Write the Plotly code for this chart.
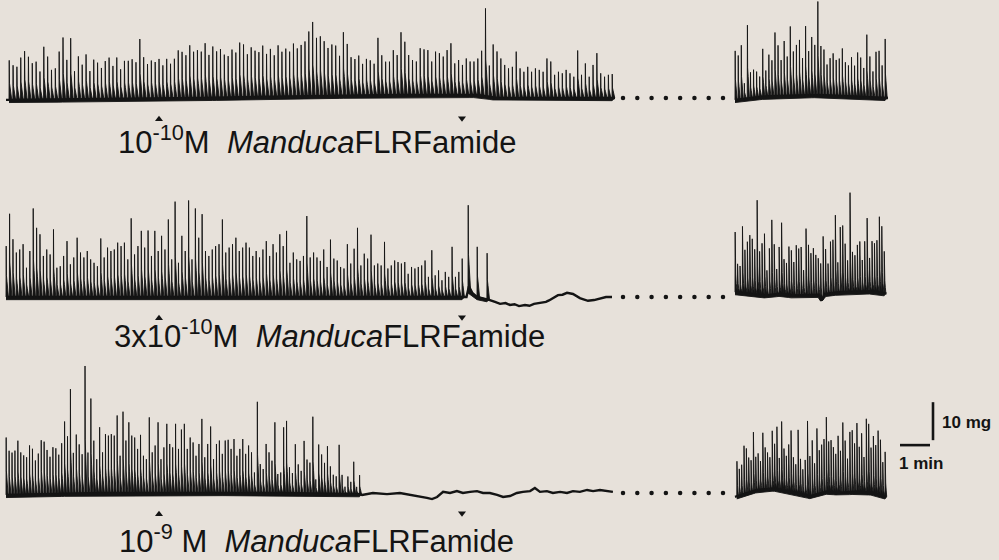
import numpy as np
import plotly.graph_objects as go

# ---------------- DATA (time in min, force in mg above resting baseline) ----------------
drug_on_min = 5.0
washout_min = 15.1
concentrations = ["10<sup>-10</sup>M", "3x10<sup>-10</sup>M", "10<sup>-9</sup>\u00a0M"]
peptide = "<i>Manduca</i>FLRFamide"
scale_mg = 10
scale_min = 1

# Trace 1 : 10^-10 M
t1_a_span = [0.0, 20.1]
t1_a_heights = [10.4, 9.1, 8.7, 11.1, 12.8, 11.3, 9.6, 10.0, 7.4, 13.9, 11.3, 7.8, 8.2, 12.6, 16.3, 10.4,
                16.1, 7.4, 11.3, 9.1, 11.8, 7.4, 10.4, 9.6, 8.2, 10.0, 10.9, 8.7, 10.9, 7.8, 10.0, 10.0,
                10.4, 9.6, 15.7, 10.9, 9.1, 10.0, 9.6, 10.4, 8.7, 10.4, 9.1, 10.4, 12.6, 12.2, 11.3, 13.9,
                12.2, 12.6, 12.2, 14.4, 11.3, 13.5, 12.2, 12.8, 11.3, 10.9, 12.6, 11.8, 14.4, 13.9, 11.3,
                13.1, 12.2, 11.8, 13.5, 11.3, 12.6, 10.9, 13.5, 11.8, 12.6, 11.8, 13.9, 12.6, 13.5, 14.4,
                17.0, 19.5, 15.3, 15.7, 14.4, 12.6, 13.5,
                13.2, 10.5, 16.7, 13.6, 10.1, 9.6, 10.5, 8.3, 9.6, 9.2, 8.3, 15.1, 10.5, 8.8, 8.8, 11.8,
                10.5, 16.5, 14.0, 10.5, 9.2, 8.8, 12.3, 12.0, 11.8, 8.8, 11.4, 11.0, 10.1, 11.8, 13.6, 8.3,
                9.2, 7.9, 9.6, 8.8, 8.8, 9.6, 11.8, 23.1, 8.2, 13.9, 12.2, 10.4, 8.7, 7.8, 8.2, 12.2, 7.8,
                6.9, 8.2, 6.9, 7.8, 7.4, 6.9, 10.4, 9.6, 6.1, 6.9, 6.5, 7.4, 6.5, 5.6, 12.5, 6.1, 9.1, 5.6,
                8.7, 11.8, 6.5, 5.6, 6.1, 6.3]
t1_a_base_t = [-0.1, 3.0, 6.4, 10.0, 13.0, 15.6, 16.3, 20.2]
t1_a_base_mg = [-0.5, -0.3, 0.0, 0.5, 0.8, 0.8, 0.0, 0.0]
t1_b_span = [24.2, 29.2]
t1_b_heights = [12.9, 11.6, 14.2, 4.1, 19.3, 6.8, 7.4, 6.8, 5.4, 12.6, 6.8, 10.9, 9.4, 16.7, 13.3, 9.4,
                14.4, 10.3, 18.2, 11.6, 13.3, 14.6, 9.8, 18.2, 11.6, 15.3, 13.2, 24.6, 12.9, 12.0, 8.1,
                9.8, 11.1, 9.4, 9.8, 12.5, 8.9, 8.1, 10.3, 8.1, 11.6, 10.3, 7.6, 16.4, 10.7, 6.8, 12.0,
                12.3, 8.5, 15.5]
t1_b_base_t = [24.2, 25.3, 27.0, 28.5, 29.3]
t1_b_base_mg = [-0.5, 0.5, 0.8, 0.3, 0.0]

# Trace 2 : 3x10^-10 M
t2_a_span = [-0.1, 15.1]
t2_a_heights = [13.4, 21.9, 15.2, 11.7, 12.5, 13.9, 7.7, 12.1, 23.3, 18.2, 16.5, 10.8, 12.5, 11.2, 17.8,
                7.7, 8.1, 10.8, 14.7, 8.6, 10.4, 15.6, 11.7, 10.4, 12.1, 9.9, 9.0, 8.1, 15.4, 10.4, 13.0,
                12.1, 12.5, 14.3, 13.4, 14.3, 9.9, 20.7, 11.2, 13.4, 17.4, 13.0, 17.5, 10.8, 17.4, 12.1,
                16.1, 12.5, 20.4, 9.9, 25.1, 9.0, 16.1, 12.1, 25.4, 9.9, 23.3, 15.6, 21.8, 12.1, 10.8,
                12.5, 13.4, 13.9, 20.4, 11.7, 13.0, 13.9, 15.6, 12.1, 13.0, 14.3, 13.0, 10.8, 12.1, 10.4,
                12.5, 14.7, 10.8, 13.9, 11.7, 16.5, 13.4, 17.4, 9.0, 11.7, 9.9, 9.5, 10.8, 21.3, 10.4,
                11.7, 10.4, 9.5, 12.5,
                7.9, 15.1, 10.1, 9.6, 7.9, 7.5, 13.9, 8.8, 12.7, 18.2, 8.3, 11.4, 10.1, 16.4, 8.3, 8.8,
                8.3, 14.5, 7.5, 8.3, 9.6, 9.2, 8.8, 9.2, 6.1, 7.9, 7.5, 7.9, 8.3, 9.6, 5.3, 12.3, 5.7,
                7.0, 4.4, 6.6, 5.3, 13.2, 5.3, 6.6, 10.1]
t2_late_t = [15.3, 15.6, 15.93]
t2_late_heights = [22.4, 13.2, 12.1]
t2_a_base_t = [-0.1, 5.0, 10.0, 15.25, 15.33, 15.45, 15.6, 15.9, 16.03, 16.2, 16.37, 16.55, 16.7, 16.85,
               17.0, 17.2, 17.35, 17.5, 17.7, 17.9, 18.0, 18.13, 18.3, 18.45, 18.6, 18.8, 18.9, 19.03,
               19.15, 19.3, 19.5, 19.7, 19.9, 20.1]
t2_a_base_mg = [0.0, 0.0, 0.0, 0.0, 2.8, 1.0, 0.0, -0.5, -0.8, -1.3, -1.8, -1.6, -2.1, -1.9, -2.4, -2.1,
                -2.3, -1.8, -1.6, -1.3, -0.9, -0.3, 0.5, 0.6, 1.1, 0.8, 0.3, -0.3, -0.6, -1.0, -0.8,
                -0.5, 0.0, 0.0]
t2_b_span = [24.2, 29.17]
t2_b_heights = [15.8, 7.5, 7.0, 17.5, 11.4, 13.6, 15.4, 14.5, 11.8, 24.8, 11.4, 13.6, 16.2, 6.6, 12.3,
                19.7, 13.2, 6.6, 12.3, 18.7, 9.2, 8.3, 12.7, 11.8, 8.8, 13.2, 12.3, 12.7, 6.6, 17.5,
                13.2, 11.0, 12.3, 10.5, 9.6, 9.2, 16.1, 11.8, 7.9, 13.6, 14.0, 20.4, 7.9, 17.1, 17.5,
                12.7, 8.3, 26.1, 10.5, 9.6, 12.3, 13.2, 8.3, 13.2, 19.3, 8.8, 13.2, 12.7, 13.6, 19.9,
                17.5, 11.0]
t2_b_base_t = [24.2, 25.25, 25.7, 26.14, 27.0, 27.08, 27.2, 27.7, 28.8, 29.25]
t2_b_base_mg = [1.3, 0.4, 0.9, 0.4, 0.6, -0.9, 0.8, 1.3, 1.5, 0.9]

# Trace 3 : 10^-9 M
t3_a_span = [-0.1, 11.68]
t3_a_heights = [15.1, 11.6, 11.1, 11.6, 14.2, 11.1, 10.3, 9.8, 12.9, 12.0, 8.9, 10.7, 14.2, 13.8, 11.6,
                9.8, 12.3, 12.0, 10.3, 13.3, 19.0, 15.1, 27.5, 10.7, 15.5, 12.9, 10.3, 33.5, 10.7, 24.9,
                13.8, 8.9, 17.3, 10.7, 15.5, 15.1, 15.5, 15.1, 20.4, 9.8, 21.4, 13.8, 18.6, 15.1, 14.6,
                11.6, 15.3, 9.8, 8.9, 19.9, 10.7, 12.5, 18.6, 8.9, 12.0, 18.2, 12.9, 12.0, 18.2, 11.6,
                16.7, 18.2, 11.6, 14.6, 13.3, 9.8, 12.9, 19.5, 9.4, 12.9, 17.5, 8.9, 12.9, 13.8, 10.3,
                13.8, 14.0, 11.6, 14.2, 9.8, 11.6, 14.2, 10.3, 12.5, 10.7, 5.4, 24.0, 7.6, 6.3, 12.9,
                10.7, 8.5, 18.6, 5.0, 5.4, 17.3, 19.0, 6.8, 5.3, 12.9, 7.6, 5.9, 13.8, 8.9, 8.1, 20.2,
                3.7, 12.9, 10.3, 8.1, 12.5,
                7.2, 5.0, 4.6, 12.9, 5.0, 1.9, 4.6, 3.2, 8.5, 1.9, 5.0]
t3_a_base_t = [-0.1, 3.0, 6.0, 9.0, 11.7, 11.77, 12.13, 12.6, 13.03, 13.37, 13.7, 13.93, 14.1, 14.27,
               14.47, 14.7, 14.93, 15.13, 15.37, 15.6, 15.8, 16.03, 16.27, 16.47, 16.7, 16.93, 17.13,
               17.37, 17.53, 17.7, 17.93, 18.13, 18.37, 18.6, 18.8, 19.03, 19.27, 19.47, 19.7, 19.93,
               20.13]
t3_a_base_mg = [-0.5, 0.0, 0.0, 0.0, -0.3, -0.5, 0.0, -0.3, 0.0, -0.5, -0.8, -1.3, -1.6, -1.05, 0.3,
                0.0, 0.5, 0.0, 0.3, 0.5, 0.0, 0.0, -0.5, -1.05, -0.8, 0.0, 0.3, 0.5, 1.3, 0.3, 0.5,
                0.0, 0.3, 0.0, 0.5, 0.3, 0.8, 0.5, 0.8, 0.5, 0.3]
t3_b_span = [24.26, 29.2]
t3_b_heights = [9.2, 7.0, 7.9, 12.7, 11.8, 9.2, 8.3, 15.5, 8.8, 9.6, 7.5, 14.9, 11.0, 9.6, 8.3, 15.2,
                11.8, 16.4, 8.3, 18.0, 11.0, 9.2, 12.3, 16.1, 9.2, 7.5, 16.7, 9.2, 6.6, 9.2, 19.6, 10.5,
                14.5, 8.3, 17.3, 11.4, 12.7, 14.0, 19.6, 13.2, 13.6, 11.8, 10.1, 14.9, 11.0, 18.4, 13.6,
                8.8, 15.8, 16.2, 12.7, 18.0, 11.8, 15.4, 9.2, 19.3, 18.0, 11.8, 14.9, 12.7, 16.7, 14.5,
                8.8, 11.7]
t3_b_base_t = [24.2, 24.92, 25.48, 26.03, 26.7, 27.26, 27.7, 28.26, 28.81, 29.25]
t3_b_base_mg = [-1.0, 0.8, 1.2, 0.4, -0.8, 0.4, 0.1, 0.4, 0.1, -1.0]

# ---------------- LAYOUT CONSTANTS ----------------
W, H = 999, 560
X0_PX, PX_PER_MIN = 9.0, 30.0
PX_PER_MG = 3.8
INK = "#141414"
BG = "#e7e1da"
FONT = "Liberation Sans, Arial, Helvetica, sans-serif"

# (baseline px, domain top px, domain bottom px)
panels = [(98, 0, 125), (297, 170, 325), (493, 355, 525)]
# spike waveform: (fraction of spacing, fraction of peak) - rise, fast fall, slow relaxation
SHAPE = [(0.0, 0.0), (0.06, 1.0), (0.13, 0.42), (0.3, 0.3), (0.5, 0.14), (0.72, 0.0)]


def px_to_min(px):
    return (px - X0_PX) / PX_PER_MIN


fig = go.Figure()


def spikes_polygon(times, heights, base_t, base_mg, spacing, yref):
    xs, ys = [], []
    for t, h in zip(times, heights):
        b = float(np.interp(t, base_t, base_mg))
        for dx, f in SHAPE:
            xs.append(t + dx * spacing)
            ys.append(b + f * h)
    for t in list(times)[::-1]:
        xs.append(t)
        ys.append(float(np.interp(t, base_t, base_mg)) - 0.7)
    fig.add_trace(go.Scatter(x=xs, y=ys, mode="lines", fill="toself", fillcolor=INK,
                             line=dict(color=INK, width=0.9), yaxis=yref, hoverinfo="skip",
                             showlegend=False))


def segment(span, heights, base_t, base_mg, yref):
    times = np.linspace(span[0], span[1], len(heights))
    spacing = (span[1] - span[0]) / (len(heights) - 1)
    fig.add_trace(go.Scatter(x=base_t, y=base_mg, mode="lines", line=dict(color=INK, width=2.4),
                             yaxis=yref, hoverinfo="skip", showlegend=False))
    spikes_polygon(times, heights, base_t, base_mg, spacing, yref)


traces = [
    ("y", t1_a_span, t1_a_heights, t1_a_base_t, t1_a_base_mg, t1_b_span, t1_b_heights, t1_b_base_t, t1_b_base_mg),
    ("y2", t2_a_span, t2_a_heights, t2_a_base_t, t2_a_base_mg, t2_b_span, t2_b_heights, t2_b_base_t, t2_b_base_mg),
    ("y3", t3_a_span, t3_a_heights, t3_a_base_t, t3_a_base_mg, t3_b_span, t3_b_heights, t3_b_base_t, t3_b_base_mg),
]

for yref, sa, ha, bta, bma, sb, hb, btb, bmb in traces:
    segment(sa, ha, bta, bma, yref)
    segment(sb, hb, btb, bmb, yref)
    # gap dots
    fig.add_trace(go.Scatter(x=np.linspace(px_to_min(623), px_to_min(723), 8), y=[0] * 8, mode="markers",
                             marker=dict(color=INK, size=4.5), yaxis=yref, hoverinfo="skip",
                             showlegend=False))
    # application / washout arrows
    fig.add_trace(go.Scatter(x=[drug_on_min], y=[-5.6], mode="markers",
                             marker=dict(symbol="triangle-up", color=INK, size=7), yaxis=yref,
                             hoverinfo="skip", showlegend=False))
    fig.add_trace(go.Scatter(x=[washout_min], y=[-5.3], mode="markers",
                             marker=dict(symbol="triangle-down", color=INK, size=7), yaxis=yref,
                             hoverinfo="skip", showlegend=False))

# late spikes of trace 2 (just after washout)
spikes_polygon(t2_late_t, t2_late_heights, t2_a_base_t, t2_a_base_mg, 0.12, "y2")

# scale bar (in trace-3 axes)
bar_x = px_to_min(933)
fig.add_trace(go.Scatter(x=[bar_x, bar_x], y=[13.9, 13.9 + scale_mg], mode="lines",
                         line=dict(color=INK, width=2.6), yaxis="y3", hoverinfo="skip", showlegend=False))
fig.add_trace(go.Scatter(x=[px_to_min(900), px_to_min(900) + scale_min], y=[12.6, 12.6], mode="lines",
                         line=dict(color=INK, width=2.6), yaxis="y3", hoverinfo="skip", showlegend=False))

layout_axes = {}
for i, (base_px, top_px, bot_px) in enumerate(panels):
    name = "yaxis" if i == 0 else f"yaxis{i + 1}"
    layout_axes[name] = dict(domain=[1 - bot_px / H, 1 - top_px / H],
                             range=[-(bot_px - base_px) / PX_PER_MG, (base_px - top_px) / PX_PER_MG],
                             visible=False, fixedrange=True, anchor="x")

annotations = []
label_pos = [(116, 140), (112, 334), (117, 539)]
for conc, (lx, ly) in zip(concentrations, label_pos):
    annotations.append(dict(x=lx / W, y=1 - ly / H, xref="paper", yref="paper", xanchor="left",
                            yanchor="middle", showarrow=False,
                            text=conc + "\u00a0\u00a0" + peptide,
                            font=dict(family=FONT, size=31, color=INK)))
annotations.append(dict(x=940 / W, y=1 - 422 / H, xref="paper", yref="paper", xanchor="left",
                        yanchor="middle", showarrow=False, text=f"<b>{scale_mg} mg</b>",
                        font=dict(family=FONT, size=17, color=INK)))
annotations.append(dict(x=897 / W, y=1 - 463 / H, xref="paper", yref="paper", xanchor="left",
                        yanchor="middle", showarrow=False, text=f"<b>{scale_min} min</b>",
                        font=dict(family=FONT, size=17, color=INK)))

fig.update_layout(
    width=W, height=H, margin=dict(l=0, r=0, t=0, b=0),
    paper_bgcolor=BG, plot_bgcolor=BG,
    xaxis=dict(range=[px_to_min(0), px_to_min(W)], domain=[0, 1], visible=False, fixedrange=True),
    annotations=annotations, showlegend=False,
    **layout_axes,
)

fig.write_html("out.html", config={"displayModeBar": False},
               post_script="document.body.style.margin='0';document.body.style.overflow='hidden';")
